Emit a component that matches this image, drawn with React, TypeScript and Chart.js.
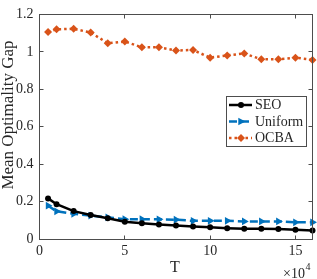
import React, { useEffect, useRef } from 'react';
import { Chart, registerables } from 'chart.js';

Chart.register(...registerables);

const T = [0.5, 1, 2, 3, 4, 5, 6, 7, 8, 9, 10, 11, 12, 13, 14, 15, 16];
const seo = [0.217, 0.186, 0.149, 0.128, 0.111, 0.092, 0.084, 0.077, 0.072, 0.067, 0.063, 0.058, 0.055, 0.055, 0.053, 0.05, 0.046];
const uniform = [0.178, 0.148, 0.135, 0.125, 0.115, 0.106, 0.106, 0.105, 0.103, 0.097, 0.097, 0.097, 0.094, 0.094, 0.094, 0.089, 0.089];
const ocba = [1.106, 1.12, 1.123, 1.103, 1.046, 1.055, 1.024, 1.024, 1.007, 1.01, 0.969, 0.981, 0.991, 0.96, 0.96, 0.969, 0.957];
const xTicks = [0, 5, 10, 15];
const yTicks = [0, 0.2, 0.4, 0.6, 0.8, 1, 1.2];
const seriesNames = ['SEO', 'Uniform', 'OCBA'];
const seriesColors = ['#000000', '#0072BD', '#D95319'];
const xTitle = 'T';
const yTitle = 'Mean Optimality Gap';
const xExponent = '4';

const FAMILY = "'Liberation Serif', 'Times New Roman', serif";
const TEXT = '#262626';
const AXIS = '#4d4d4d';

Chart.defaults.font.family = FAMILY;

function drawMarker(ctx: CanvasRenderingContext2D, kind: string, x: number, y: number, r: number, color: string) {
  ctx.save();
  ctx.fillStyle = color;
  ctx.beginPath();
  if (kind === 'circle') {
    ctx.arc(x, y, r, 0, Math.PI * 2);
  } else if (kind === 'triangleRight') {
    ctx.moveTo(x + r, y);
    ctx.lineTo(x - r * 0.6, y - r * 0.85);
    ctx.lineTo(x - r * 0.6, y + r * 0.85);
    ctx.closePath();
  } else {
    ctx.moveTo(x, y - r);
    ctx.lineTo(x + r, y);
    ctx.lineTo(x, y + r);
    ctx.lineTo(x - r, y);
    ctx.closePath();
  }
  ctx.fill();
  ctx.restore();
}

const decor = {
  id: 'decor',
  afterDraw(chart: any) {
    const ctx: CanvasRenderingContext2D = chart.ctx;
    const { left, right, top, bottom } = chart.chartArea;
    const L = Math.floor(left) + 0.5;
    const R = Math.floor(right) + 0.5;
    const Tp = Math.floor(top) + 0.5;
    const B = Math.floor(bottom) + 0.5;
    ctx.save();
    ctx.strokeStyle = AXIS;
    ctx.lineWidth = 1;
    ctx.strokeRect(L, Tp, R - L, B - Tp);
    const tl = 4;
    const xs = chart.scales.x;
    const ys = chart.scales.y;
    ctx.beginPath();
    xTicks.forEach((v) => {
      const px = Math.floor(xs.getPixelForValue(v)) + 0.5;
      ctx.moveTo(px, B); ctx.lineTo(px, B - tl);
      ctx.moveTo(px, Tp); ctx.lineTo(px, Tp + tl);
    });
    yTicks.forEach((v) => {
      const py = Math.floor(ys.getPixelForValue(v)) + 0.5;
      ctx.moveTo(L, py); ctx.lineTo(L + tl, py);
      ctx.moveTo(R, py); ctx.lineTo(R - tl, py);
    });
    ctx.stroke();

    // axis titles
    ctx.fillStyle = TEXT;
    ctx.textAlign = 'center';
    ctx.textBaseline = 'middle';
    ctx.font = `17px ${FAMILY}`;
    ctx.save();
    ctx.translate(9, 115);
    ctx.rotate(-Math.PI / 2);
    ctx.fillText(yTitle, 0, 0);
    ctx.restore();
    ctx.font = `16px ${FAMILY}`;
    ctx.fillText(xTitle, 175, 268);
    ctx.textAlign = 'left';
    ctx.textBaseline = 'alphabetic';
    ctx.font = `14px ${FAMILY}`;
    ctx.fillText('\u00d710', 283, 278);
    const w = ctx.measureText('\u00d710').width;
    ctx.font = `10px ${FAMILY}`;
    ctx.fillText(xExponent, 283 + w + 0.5, 270);

    // legend
    const bx = 226.5, by = 96.5, bw = 80, bh = 50;
    ctx.fillStyle = '#ffffff';
    ctx.fillRect(bx, by, bw, bh);
    ctx.strokeStyle = AXIS;
    ctx.strokeRect(bx, by, bw, bh);
    const rows = [105, 121.5, 138];
    const kinds = ['circle', 'triangleRight', 'diamond'];
    const dashes = [[], [8, 4], [2.5, 3]];
    const radii = [3, 4.5, 4];
    seriesNames.forEach((name, i) => {
      const y = rows[i];
      ctx.save();
      ctx.strokeStyle = seriesColors[i];
      ctx.lineWidth = 2.5;
      ctx.setLineDash(dashes[i]);
      ctx.beginPath();
      ctx.moveTo(229, y);
      ctx.lineTo(252, y);
      ctx.stroke();
      ctx.restore();
      drawMarker(ctx, kinds[i], 241, y, radii[i], seriesColors[i]);
      ctx.fillStyle = TEXT;
      ctx.font = `14px ${FAMILY}`;
      ctx.textAlign = 'left';
      ctx.textBaseline = 'middle';
      ctx.fillText(name, 255, y + 0.5);
    });
    ctx.restore();
  },
};

export default function App() {
  const ref = useRef<HTMLCanvasElement>(null);
  useEffect(() => {
    if (!ref.current) return;
    const mk = (vals: number[]) => T.map((t, i) => ({ x: t, y: vals[i] }));
    const tickFont = { family: FAMILY, size: 14 };
    const chart = new Chart(ref.current, {
      type: 'line',
      data: {
        datasets: [
          {
            label: seriesNames[0], data: mk(seo), borderColor: seriesColors[0], backgroundColor: seriesColors[0],
            borderWidth: 2.5, pointStyle: 'circle', pointRadius: 3, pointBorderWidth: 0, pointBackgroundColor: seriesColors[0], clip: false as any,
          },
          {
            label: seriesNames[1], data: mk(uniform), borderColor: seriesColors[1], backgroundColor: seriesColors[1],
            borderWidth: 2.5, borderDash: [8, 4], pointStyle: 'triangle', pointRotation: 90, pointRadius: 4.5, pointBorderWidth: 0,
            pointBackgroundColor: seriesColors[1], clip: false as any,
          },
          {
            label: seriesNames[2], data: mk(ocba), borderColor: seriesColors[2], backgroundColor: seriesColors[2],
            borderWidth: 2.5, borderDash: [2.5, 3], pointStyle: 'rectRot', pointRadius: 4, pointBorderWidth: 0,
            pointBackgroundColor: seriesColors[2], clip: false as any,
          },
        ],
      },
      options: {
        animation: false,
        responsive: false,
        devicePixelRatio: 1,
        layout: { padding: { left: 0, right: 3.5, top: 4.5, bottom: 0 } },
        plugins: { legend: { display: false }, tooltip: { enabled: false } },
        scales: {
          x: {
            type: 'linear', min: 0, max: 16,
            afterBuildTicks: (s: any) => { s.ticks = xTicks.map((v) => ({ value: v })); },
            afterFit: (s: any) => { s.height = 40; },
            grid: { display: false, drawTicks: false },
            border: { display: false },
            ticks: { padding: 4, font: tickFont, color: TEXT, maxRotation: 0, autoSkip: false },
          },
          y: {
            type: 'linear', min: 0, max: 1.2,
            afterBuildTicks: (s: any) => { s.ticks = yTicks.map((v) => ({ value: v })); },
            afterFit: (s: any) => { s.width = 39.5; },
            grid: { display: false, drawTicks: false },
            border: { display: false },
            ticks: {
              padding: 6, font: tickFont, color: TEXT, autoSkip: false,
              callback: (v: any) => String(Number(Number(v).toFixed(1))),
            },
          },
        },
      },
      plugins: [decor],
    });
    return () => chart.destroy();
  }, []);
  return (
    <div style={{ position: 'fixed', left: 0, top: 0, width: 317, height: 279, background: '#fff' }}>
      <canvas ref={ref} width={317} height={279} style={{ width: 317, height: 279, display: 'block' }} />
    </div>
  );
}
